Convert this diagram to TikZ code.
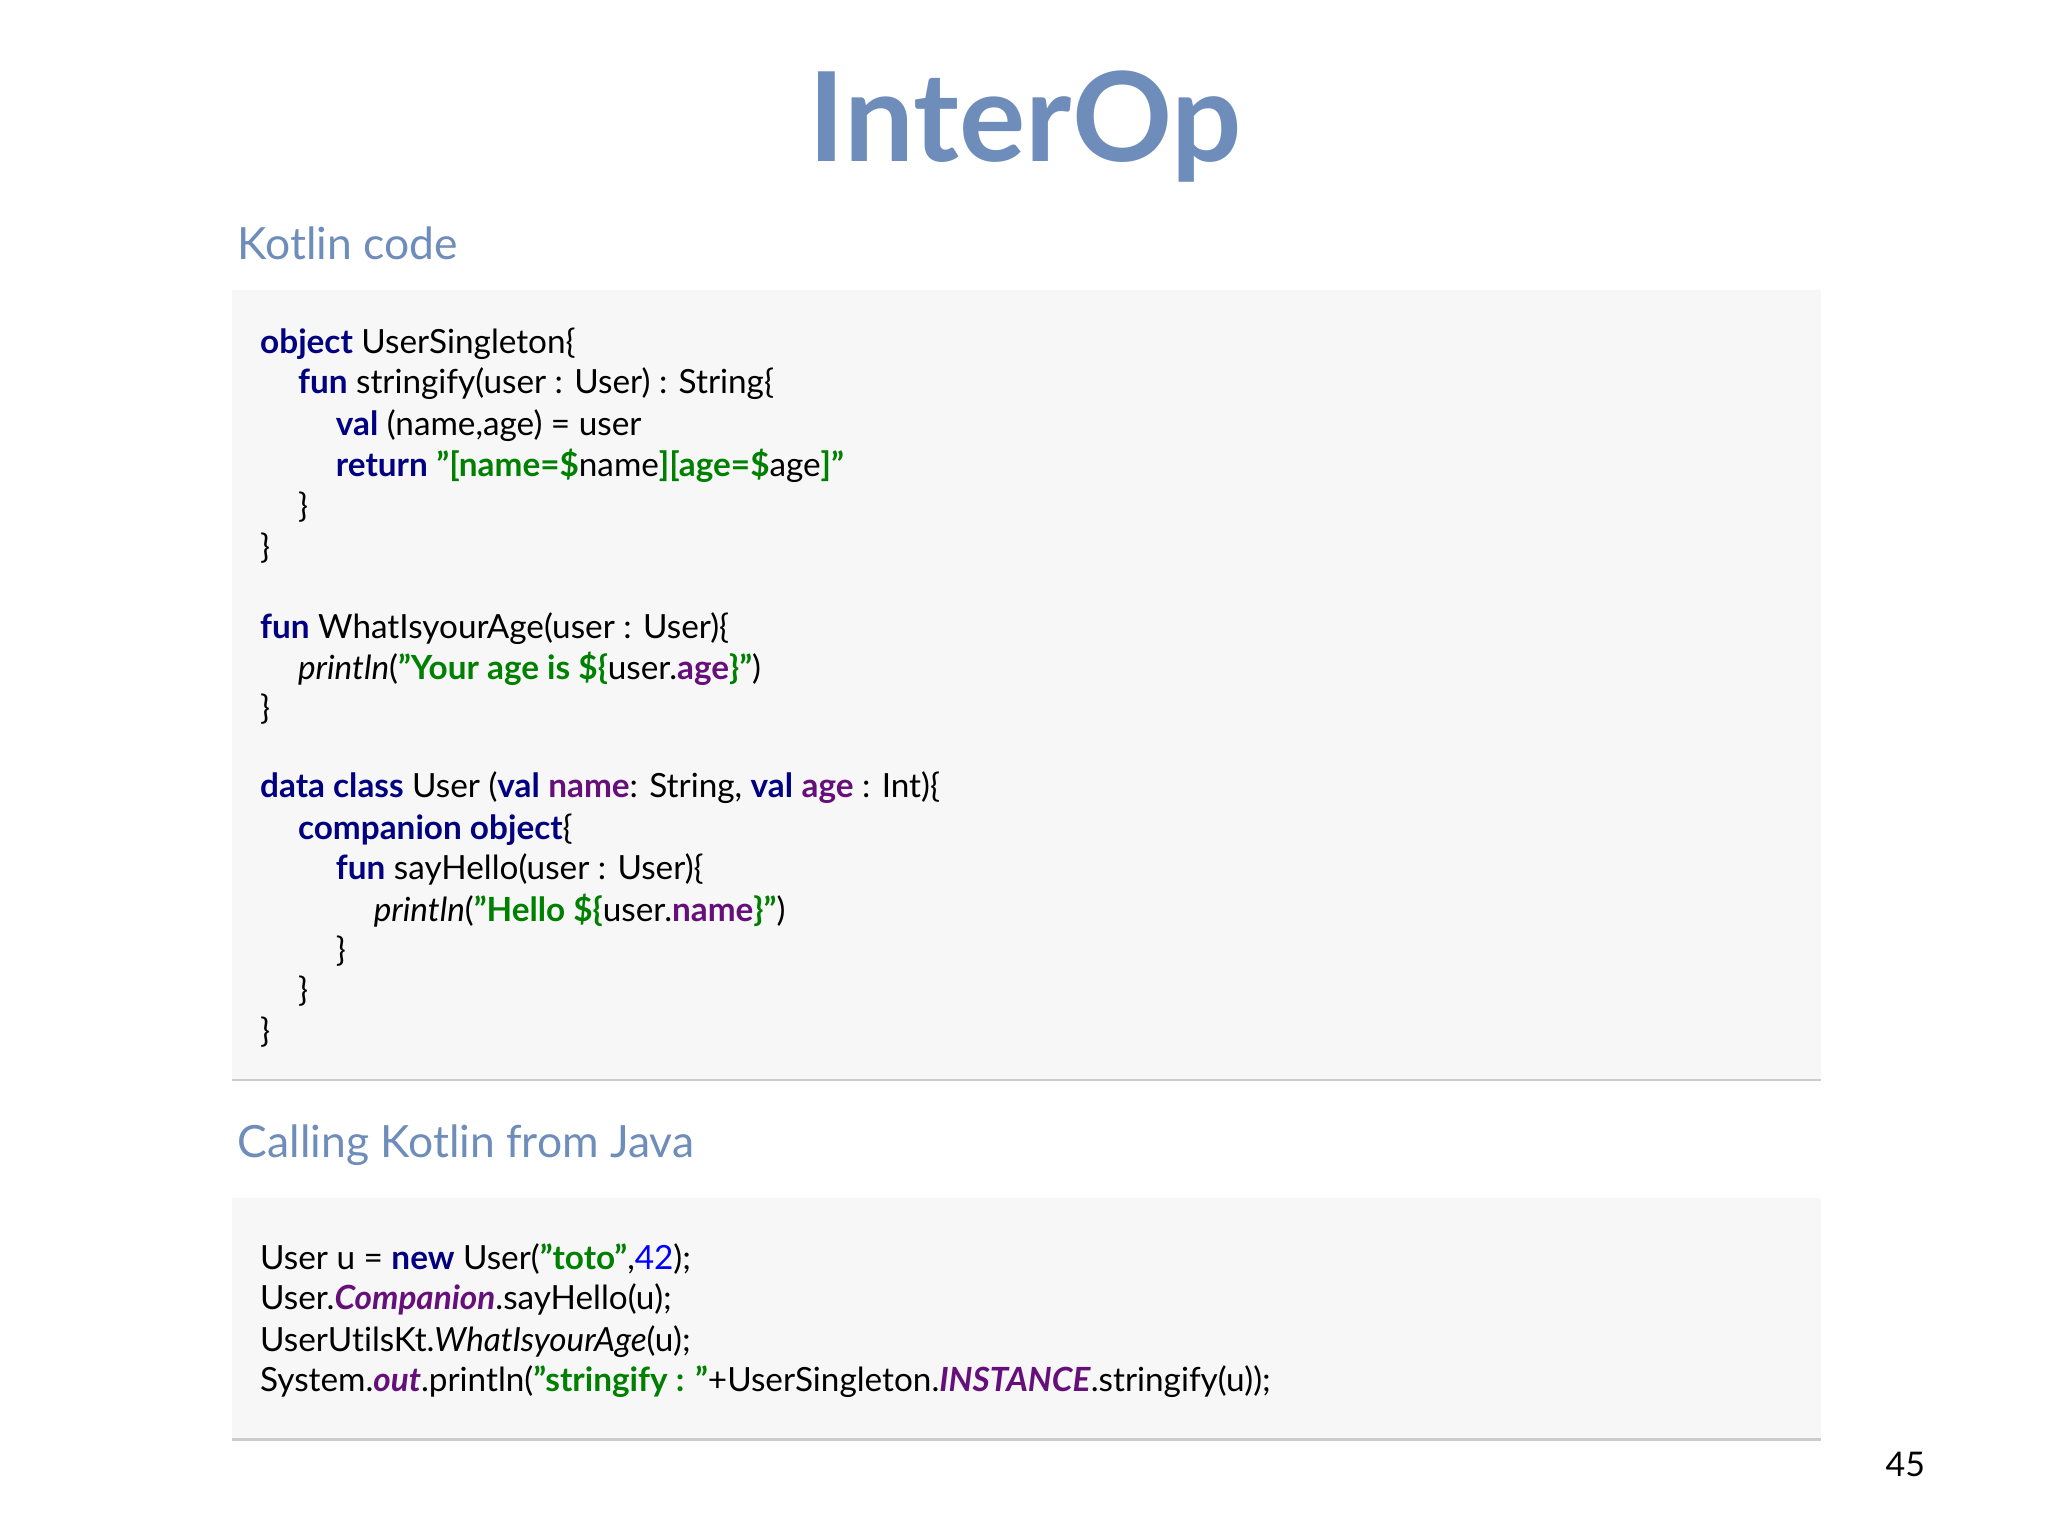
\documentclass[tikz,border=0pt]{standalone}
\usepackage{fontspec}
\setmainfont{Lato}[Ligatures=NoCommon]
\usetikzlibrary{shadows}
\definecolor{ttl}{HTML}{6F8DBB}
\definecolor{kw}{HTML}{000080}
\definecolor{st}{HTML}{008000}
\definecolor{pr}{HTML}{660E7A}
\definecolor{nb}{HTML}{0000FF}
\definecolor{boxbg}{HTML}{F7F7F7}
\newcommand{\K}[1]{\textcolor{kw}{\textbf{#1}}}
\newcommand{\Sg}[1]{\textcolor{st}{\textbf{#1}}}
\newcommand{\Pp}[1]{\textcolor{pr}{\textbf{#1}}}
\newcommand{\Pit}[1]{\textcolor{pr}{\textbf{\textit{#1}}}}
\newcommand{\qq}{\symbol{"22}}
\begin{document}
\begin{tikzpicture}[x=1pt,y=1pt,
  code/.style={anchor=west,inner sep=0pt,font=\fontsize{25.5}{30}\selectfont},
  codebox/.style={fill=boxbg,draw=none,drop shadow={shadow xshift=0pt,shadow yshift=-2pt,opacity=0.4}},
  head/.style={anchor=west,inner sep=0pt,text=ttl,font=\fontsize{34}{38}\selectfont}]
\useasboundingbox[fill=white] (0,0) rectangle (1568,-1176);
\node[text=ttl,font=\fontsize{95}{100}\selectfont\bfseries] (title) at (785,-97) {InterOp};
\node[head] (h1) at (182,-186) {Kotlin code};
\path[codebox] (178,-222) rectangle (1394,-826);
\node[head] (h2) at (182,-877) {Calling Kotlin from Java};
\path[codebox] (178,-917) rectangle (1394,-1101);
\node[anchor=east,inner sep=0pt,font=\fontsize{26}{30}\selectfont] (pg) at (1474,-1121) {45};
% Kotlin code
\node[code] (l1) at (199,-263) {\K{object} UserSingleton\{};
\node[code] (l2) at (228,-294) {\K{fun} stringify(user : User) : String\{};
\node[code] (l3) at (257,-326) {\K{val} (name,age) = user};
\node[code] (l4) at (257,-357) {\K{return} \Sg{\qq[name=\$}name\Sg{][age=\$}age\Sg{]\qq}};
\node[code] (l5) at (228,-388) {\}};
\node[code] (l6) at (199,-420) {\}};
\node[code] (l7) at (199,-481) {\K{fun} WhatIsyourAge(user : User)\{};
\node[code] (l8) at (228,-512) {\textit{println}(\Sg{\qq Your age is \$\{}user.\Pp{age}\Sg{\}\qq})};
\node[code] (l9) at (199,-543) {\}};
\node[code] (l10) at (199,-603) {\K{data class} User (\K{val} \Pp{name}: String, \K{val} \Pp{age} : Int)\{};
\node[code] (l11) at (228,-635) {\K{companion object}\{};
\node[code] (l12) at (257,-666) {\K{fun} sayHello(user : User)\{};
\node[code] (l13) at (286,-697) {\textit{println}(\Sg{\qq Hello \$\{}user.\Pp{name}\Sg{\}\qq})};
\node[code] (l14) at (257,-728) {\}};
\node[code] (l15) at (228,-759) {\}};
\node[code] (l16) at (199,-790) {\}};
% Java code
\node[code] (j1) at (199,-964) {User u = \K{new} User(\Sg{\qq toto\qq},\textcolor{nb}{42});};
\node[code] (j2) at (199,-995) {User.\Pit{Companion}.sayHello(u);};
\node[code] (j3) at (199,-1027) {UserUtilsKt.\textit{WhatIsyourAge}(u);};
\node[code] (j4) at (199,-1058) {System.\Pit{out}.println(\Sg{\qq stringify : \qq}+UserSingleton.\Pit{INSTANCE}.stringify(u));};
\end{tikzpicture}
\end{document}
